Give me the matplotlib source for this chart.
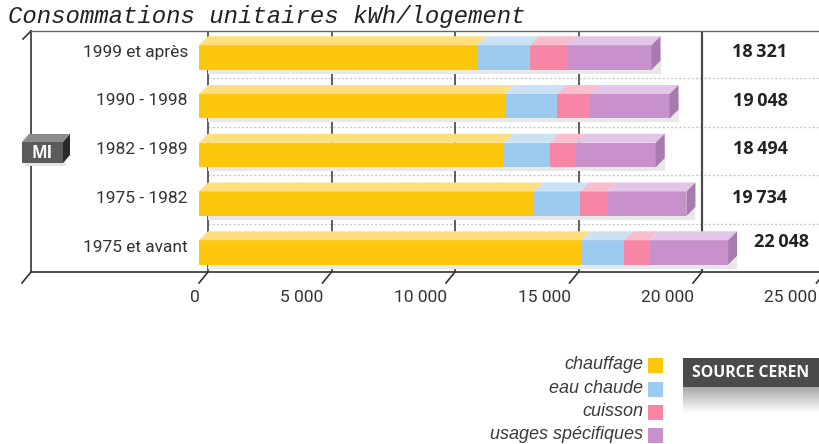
import matplotlib
matplotlib.use("Agg")
import matplotlib.pyplot as plt
from matplotlib.patches import Polygon, Rectangle
import matplotlib.transforms as mtransforms
import numpy as np

# ---------------- data ----------------
categories = ["1999 et après", "1990 - 1998", "1982 - 1989", "1975 - 1982", "1975 et avant"]
chauffage = [11250, 12390, 12350, 13560, 15470]
eau_chaude = [2150, 2100, 1860, 1865, 1740]
cuisson = [1500, 1340, 1050, 1090, 1050]
usages_specifiques = [3420, 3220, 3230, 3220, 3160]
totals = [18321, 19048, 18494, 19734, 22048]
series_names = ["chauffage", "eau chaude", "cuisson", "usages spécifiques"]
x_ticks = [0, 5000, 10000, 15000, 20000, 25000]
x_tick_labels = ["0", "5 000", "10 000", "15 000", "20 000", "25 000"]
title = "Consommations unitaires kWh/logement"
source_text = "SOURCE CEREN"
box_text = "MI"

front_colors = ["#FDC70C", "#9DCBEF", "#F785A5", "#C990CE"]
top_colors = ["#FDDF80", "#CBE2F5", "#F9BECD", "#E2C6E7"]
side_color = "#A97AAF"

NARROW = ["Roboto", "DejaVu Sans"]

# ---------------- layout helpers ----------------
W, H = 820, 444
fig = plt.figure(figsize=(W / 100, H / 100), dpi=100)
fig.patch.set_facecolor("white")


def fx(px):
    return px / W


def fy(py):
    return 1 - py / H


AX_L, AX_R, AX_T, AX_B = 31, 820, 31, 272
ax = fig.add_axes([fx(AX_L), fy(AX_B), fx(AX_R) - fx(AX_L), (AX_B - AX_T) / H])

X0_PX = 199.0          # pixel of value 0 (front plane)
PX_PER = 0.0247        # pixels per kWh
ROW_PX = 48.75
ROW0_PX = 52.0
xmin = -(X0_PX - AX_L) / PX_PER
xmax = (AX_R - X0_PX) / PX_PER
ymin = (AX_T - ROW0_PX) / ROW_PX
ymax = (AX_B - ROW0_PX) / ROW_PX
ax.set_xlim(xmin, xmax)
ax.set_ylim(ymax, ymin)

DX = 9 / PX_PER        # 3D depth in x (data units)
DY = 9 / ROW_PX        # 3D depth in y (data units)
BAR_H = 24.5 / ROW_PX
BAR_OFF = 5.5 / ROW_PX

ax.set_xticks([])
ax.set_yticks([])
ax.spines["right"].set_visible(False)
ax.spines["left"].set_color("#333333")
ax.spines["left"].set_linewidth(1.2)
ax.spines["bottom"].set_color("#333333")
ax.spines["bottom"].set_linewidth(1.2)
ax.spines["top"].set_color("#666666")
ax.spines["top"].set_linewidth(1.0)

n = len(categories)
ypos = np.arange(n)

# gridlines on the back plane
for v in x_ticks[:-1]:
    lw = 1.6 if v == 20000 else 1.1
    col = "#4a4a4a" if v == 20000 else "#333333"
    ax.axvline(v + DX, color=col, lw=lw, zorder=1)

# dotted separators between rows
for i in range(n - 1):
    ax.hlines(i + 0.53, DX, xmax, colors="#c8c8c8", lw=1.0,
              linestyles=(0, (1.5, 1.5)), zorder=0.8)

series = [chauffage, eau_chaude, cuisson, usages_specifiques]
sums = np.sum(np.array(series), axis=0)

# shadows
ax.barh(ypos + BAR_OFF + 4 / ROW_PX, sums, left=DX, height=BAR_H,
        color="#e8e8e8", zorder=1.5, edgecolor="none")

# stacked bars (front faces + top faces)
left = np.zeros(n)
for k, vals in enumerate(series):
    vals = np.array(vals, dtype=float)
    ax.barh(ypos + BAR_OFF, vals, left=left, height=BAR_H,
            color=front_colors[k], edgecolor="none", zorder=3)
    for i in range(n):
        x0 = left[i]
        x1 = left[i] + vals[i]
        yt = ypos[i] + BAR_OFF - BAR_H / 2
        poly = Polygon([(x0, yt), (x1, yt), (x1 + DX, yt - DY), (x0 + DX, yt - DY)],
                       closed=True, facecolor=top_colors[k], edgecolor="none", zorder=3)
        ax.add_patch(poly)
    left = left + vals

# end faces
for i in range(n):
    xe = sums[i]
    yt = ypos[i] + BAR_OFF - BAR_H / 2
    yb = ypos[i] + BAR_OFF + BAR_H / 2
    poly = Polygon([(xe, yt), (xe + DX, yt - DY), (xe + DX, yb - DY), (xe, yb)],
                   closed=True, facecolor=side_color, edgecolor="none", zorder=3)
    ax.add_patch(poly)

# category labels
for i, c in enumerate(categories):
    ax.text(-11 / PX_PER, ypos[i], c, ha="right", va="center",
            fontsize=12.5, family=NARROW, color="#333333", zorder=4)

# totals
for i, t in enumerate(totals):
    s = f"{t:,}".replace(",", "\u2009")
    if i == n - 1:
        xc, yc = (782 - X0_PX) / PX_PER, ypos[i] - 5 / ROW_PX
    else:
        xc, yc = (760 - X0_PX) / PX_PER, ypos[i]
    ax.text(xc, yc, s, ha="center", va="center", fontsize=13,
            family=["Open Sans", "DejaVu Sans"], fontweight="bold",
            color="#222222", zorder=4)

# slanted bottom ticks + labels
trans = mtransforms.blended_transform_factory(ax.transData, ax.transAxes)
axh = AX_B - AX_T
axw = AX_R - AX_L
for v, lab in zip(x_ticks, x_tick_labels):
    ax.plot([v + DX, v], [0, -11 / axh], transform=trans, color="#333333",
            lw=1.2, clip_on=False, zorder=4)
    ax.text(v + 1 / PX_PER, -25 / axh, lab, transform=trans, ha="right",
            va="center", fontsize=12.5, family=NARROW, color="#333333")
# left corner ticks
ax.plot([0, -9 / axw], [0, -11 / axh], transform=ax.transAxes, color="#333333",
        lw=1.2, clip_on=False)
ax.plot([0, -8 / axw], [1, 1 - 8 / axh], transform=ax.transAxes, color="#333333",
        lw=1.2, clip_on=False)

# title
fig.text(fx(8), fy(23), title, ha="left", va="baseline", fontsize=17.3,
         family=["Liberation Mono", "DejaVu Sans Mono"], style="italic",
         color="#222222")

# MI box
fig.patches.append(Rectangle((fx(25), fy(166)), 41 / W, 24 / H,
                             transform=fig.transFigure, facecolor="#e4e4e4",
                             edgecolor="none", zorder=5))
fig.patches.append(Polygon([(fx(22), fy(142)), (fx(63), fy(142)), (fx(70), fy(134)), (fx(29), fy(134))],
                           closed=True, transform=fig.transFigure,
                           facecolor="#8c8c8c", edgecolor="none", zorder=6))
fig.patches.append(Polygon([(fx(63), fy(142)), (fx(70), fy(134)), (fx(70), fy(155)), (fx(63), fy(163))],
                           closed=True, transform=fig.transFigure,
                           facecolor="#2a2a2a", edgecolor="none", zorder=6))
fig.patches.append(Rectangle((fx(22), fy(163)), 41 / W, 21 / H,
                             transform=fig.transFigure, facecolor="#5b5b5b",
                             edgecolor="none", zorder=6))
fig.text(fx(42.5), fy(152.5), box_text, ha="center", va="center", fontsize=12,
         fontweight="bold", color="white", family=["Open Sans", "DejaVu Sans"], zorder=7)

# legend
leg_y = [365.5, 389.5, 412.5, 435.5]
for name, col, yy in zip(series_names, front_colors, leg_y):
    fig.patches.append(Rectangle((fx(648), fy(yy + 7.5)), 15 / W, 15 / H,
                                 transform=fig.transFigure, facecolor=col,
                                 edgecolor="none"))
    fig.text(fx(643), fy(yy - 1), name, ha="right", va="center", fontsize=13,
             style="italic", family=["Liberation Sans", "DejaVu Sans"], color="#3a3a3a")

# source box with gradient shadow
sh_ax = fig.add_axes([fx(683), fy(414), fx(820) - fx(683), 27 / H])
grad = np.linspace(0.55, 1.0, 64).reshape(-1, 1) ** 0.7
sh_ax.imshow(grad, cmap="gray", vmin=0, vmax=1, aspect="auto",
             extent=[0, 1, 0, 1], origin="upper")
sh_ax.set_axis_off()
fig.patches.append(Rectangle((fx(683), fy(387)), (820 - 683) / W, 29 / H,
                             transform=fig.transFigure, facecolor="#4b4b4b",
                             edgecolor="none", zorder=8))
fig.text(fx(692), fy(372.5), source_text, ha="left", va="center", fontsize=11.3,
         fontweight="bold", color="white", family=["Open Sans", "DejaVu Sans"], zorder=9)

fig.savefig("out.png", dpi=100, facecolor="white")
